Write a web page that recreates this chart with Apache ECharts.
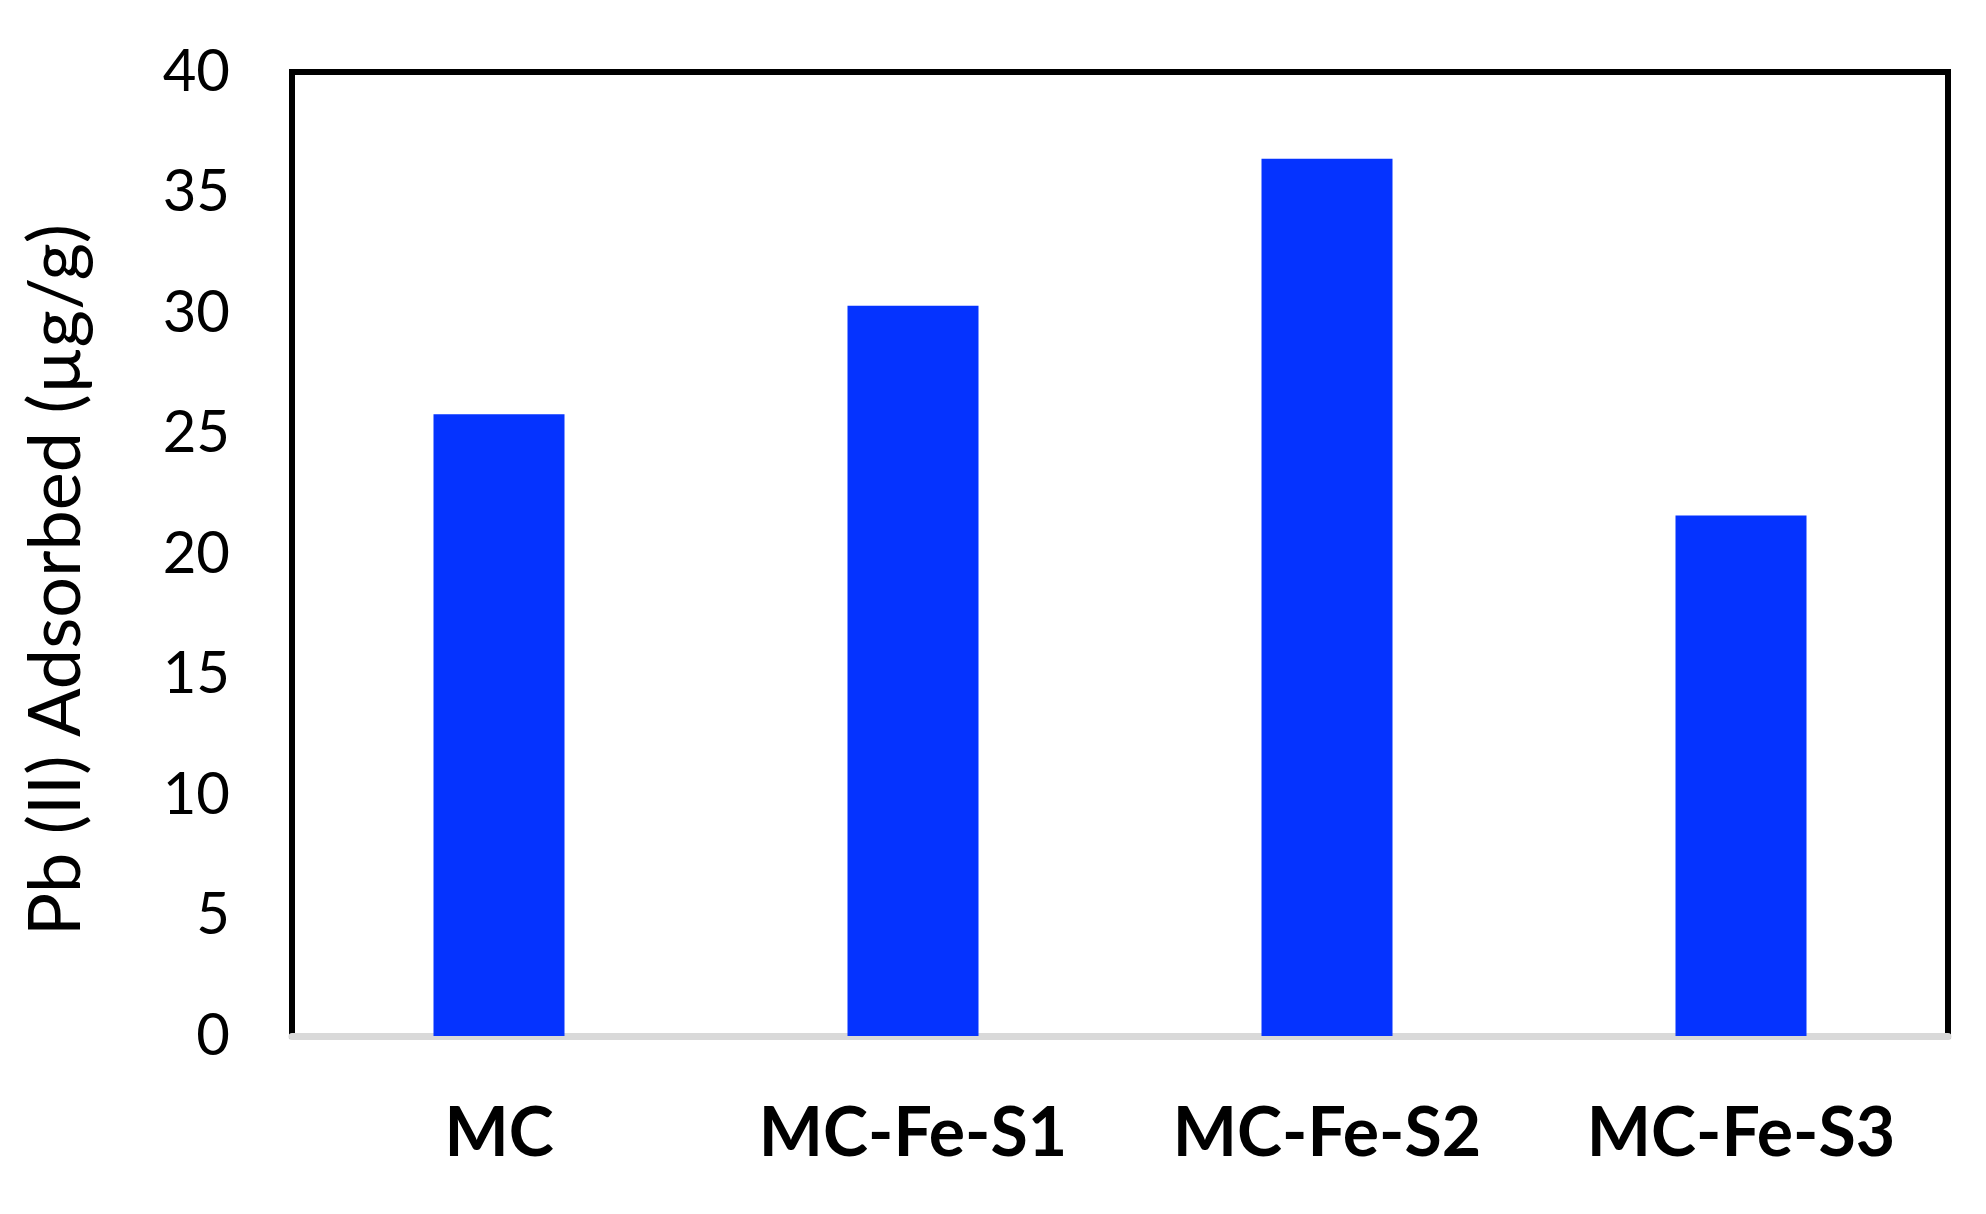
<!DOCTYPE html>
<html>
<head>
<meta charset="utf-8">
<script src="https://cdn.jsdelivr.net/npm/echarts@6/dist/echarts.min.js"></script>
<style>
html,body{margin:0;padding:0;background:#fff;}
#chart{width:1986px;height:1214px;}
</style>
</head>
<body>
<div id="chart"></div>
<script>
const categories = ['MC', 'MC-Fe-S1', 'MC-Fe-S2', 'MC-Fe-S3'];
const pbAdsorbed = [25.8, 30.3, 36.4, 21.6];
const yTicks = [0, 5, 10, 15, 20, 25, 30, 35, 40];
const yTitle = 'Pb (II) Adsorbed (µg/g)';

const chart = echarts.init(document.getElementById('chart'), null, {renderer: 'canvas'});
const option = {
  backgroundColor: '#ffffff',
  animation: false,
  grid: {
    left: 292, right: 38, top: 72, bottom: 178,
    show: true, borderColor: '#000000', borderWidth: 6, backgroundColor: 'transparent'
  },
  xAxis: {
    type: 'category',
    data: categories,
    axisLine: {show: true, lineStyle: {color: '#d9d9d9', width: 7}},
    axisTick: {show: false},
    axisLabel: {
      color: '#000000', fontFamily: 'Lato', fontWeight: 'bold', fontSize: 68, margin: 64
    },
    splitLine: {show: false}
  },
  yAxis: {
    type: 'value',
    min: yTicks[0],
    max: yTicks[yTicks.length - 1],
    interval: 5,
    axisLine: {show: true, lineStyle: {color: '#000000', width: 6}},
    axisTick: {show: false},
    splitLine: {show: false},
    axisLabel: {
      color: '#000000', fontFamily: 'Lato', fontSize: 58, margin: 62,
      padding: [0, 0, 22, 0]
    }
  },
  graphic: [{
    type: 'text',
    x: 57,
    y: 580,
    rotation: Math.PI / 2,
    style: {
      text: yTitle,
      font: '72px Lato',
      fill: '#000000',
      align: 'center',
      verticalAlign: 'middle'
    }
  }],
  series: [{
    type: 'bar',
    data: pbAdsorbed,
    barWidth: 131,
    itemStyle: {color: '#0533FF'}
  }]
};
chart.setOption(option);
</script>
</body>
</html>
